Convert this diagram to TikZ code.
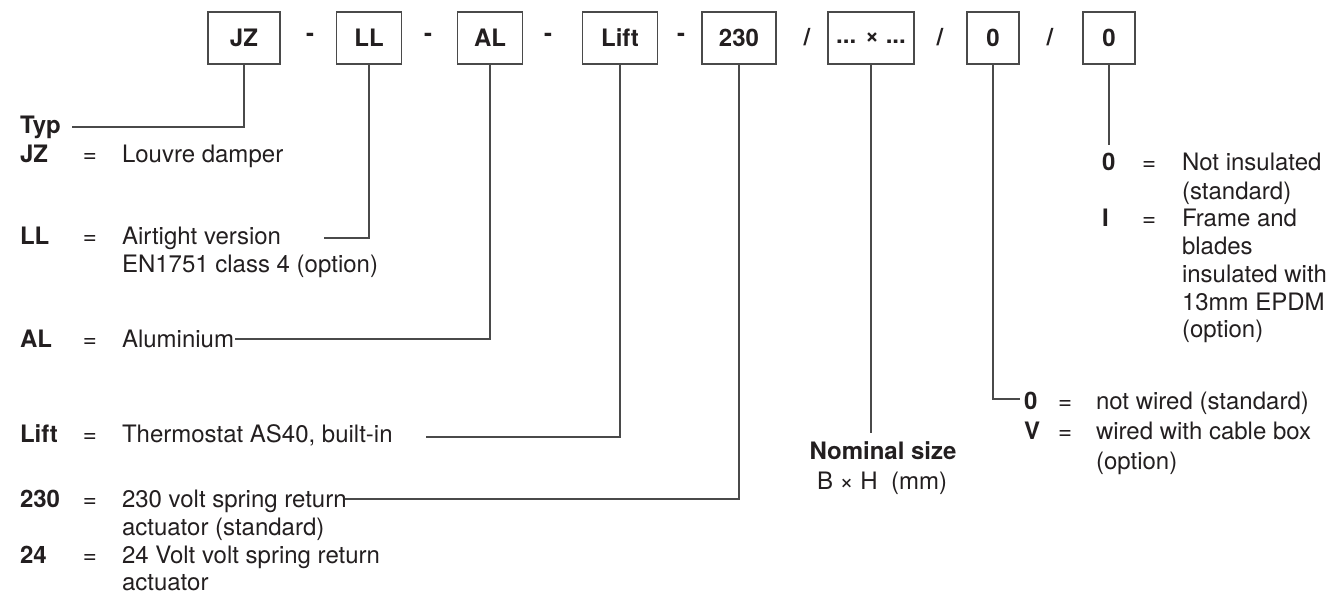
\documentclass[tikz,border=0pt]{standalone}
\usepackage{fontspec}
\setmainfont{TeX Gyre Heros}
\definecolor{textc}{HTML}{231F20}
\definecolor{linec}{HTML}{4A4A4A}
\begin{document}
\begin{tikzpicture}[x=0.5pt,y=-0.5pt,
  every node/.style={inner sep=0pt, outer sep=0pt, text=textc},
  codebox/.style={draw=linec, line width=0.6pt, minimum height=26pt, font=\fontsize{12}{14}\selectfont\bfseries},
  sep/.style={font=\fontsize{12}{14}\selectfont\bfseries},
  code/.style={anchor=base west, font=\fontsize{12}{14}\selectfont\bfseries},
  eq/.style={anchor=base, font=\fontsize{12}{14}\selectfont},
  desc/.style={anchor=base west, font=\fontsize{12}{14}\selectfont},
  conn/.style={draw=linec, line width=0.6pt}]
\useasboundingbox (0,0) rectangle (1339,595);

% top code boxes
\node[codebox, minimum width=36pt]   (jz)   at (244,38) {JZ};
\node[codebox, minimum width=32.5pt] (ll)   at (369,38) {LL};
\node[codebox, minimum width=32.5pt] (al)   at (490,38) {AL};
\node[codebox, minimum width=37.5pt] (lift) at (620,38) {Lift};
\node[codebox, minimum width=37pt]   (b230) at (739,38) {230};
\node[codebox, minimum width=43pt]   (size) at (871,38) {... × ...};
\node[codebox, minimum width=26pt]   (za)   at (993,38) {0};
\node[codebox, minimum width=26pt]   (zb)   at (1109,38) {0};

\node[sep] (s1) at (310,37) {-};
\node[sep] (s2) at (428,37) {-};
\node[sep] (s3) at (548,37) {-};
\node[sep] (s4) at (681,37) {-};
\node[sep] (s5) at (807,37) {/};
\node[sep] (s6) at (940,37) {/};
\node[sep] (s7) at (1050,37) {/};

% left column
\node[code] (typ) at (20,133) {Typ};
\coordinate (typend) at (72,127);

\node[code] (cjz) at (20,162) {JZ};
\node[eq]   (ejz) at (90,162) {=};
\node[desc] (djz) at (122,162) {Louvre damper};

\node[code] (cll) at (20,244) {LL};
\node[eq]   (ell) at (90,244) {=};
\node[desc] (dll1) at (122,244) {Airtight version};
\node[desc] (dll2) at (122,272) {EN1751 class 4 (option)};
\coordinate (llend) at (324,238);

\node[code] (cal) at (20,347) {AL};
\node[eq]   (eal) at (90,347) {=};
\node[desc] (dal) at (122,347) {Aluminium};
\coordinate (alend) at (235,339);

\node[code] (clift) at (20,442) {Lift};
\node[eq]   (elift) at (90,442) {=};
\node[desc] (dlift) at (122,442) {Thermostat AS40, built-in};
\coordinate (liftend) at (426,437);

\node[code] (c230) at (20,507) {230};
\node[eq]   (e230) at (90,507) {=};
\node[desc] (d230a) at (122,507) {230 volt spring return};
\node[desc] (d230b) at (122,535) {actuator (standard)};
\coordinate (b230end) at (345,499);

\node[code] (c24) at (20,563) {24};
\node[eq]   (e24) at (90,563) {=};
\node[desc] (d24a) at (122,563) {24 Volt volt spring return};
\node[desc] (d24b) at (122,590) {actuator};

% nominal size
\node[anchor=base, font=\fontsize{12}{14}\selectfont\bfseries] (nom) at (883,459) {Nominal size};
\node[anchor=base, font=\fontsize{12}{14}\selectfont] (bxh) at (882,489) {B × H\ \ (mm)};
\coordinate (sizeend) at (871,433);

% wiring
\coordinate (zaend) at (1020,399);
\node[code] (cw0) at (1024,409) {0};
\node[eq]   (ew0) at (1065,409) {=};
\node[desc] (dw0) at (1096,409) {not wired (standard)};
\node[code] (cwv) at (1024,439) {V};
\node[eq]   (ewv) at (1065,439) {=};
\node[desc] (dwv1) at (1096,439) {wired with cable box};
\node[desc] (dwv2) at (1096,469) {(option)};

% insulation
\coordinate (zbend) at (1109,145);
\node[code] (ci0) at (1102,170) {0};
\node[eq]   (ei0) at (1149,170) {=};
\node[desc] (di01) at (1182,170) {Not insulated};
\node[desc] (di02) at (1182,199) {(standard)};
\node[code] (ciI) at (1102,226) {I};
\node[eq]   (eiI) at (1149,226) {=};
\node[desc] (diI1) at (1182,226) {Frame and};
\node[desc] (diI2) at (1182,254) {blades};
\node[desc] (diI3) at (1182,282) {insulated with};
\node[desc] (diI4) at (1182,310) {13mm EPDM};
\node[desc] (diI5) at (1182,337) {(option)};

% connectors
\draw[conn] (jz.south) |- (typend);
\draw[conn] (ll.south) |- (llend);
\draw[conn] (al.south) |- (alend);
\draw[conn] (lift.south) |- (liftend);
\draw[conn] (b230.south) |- (b230end);
\draw[conn] (size.south) -- (sizeend);
\draw[conn] (za.south) |- (zaend);
\draw[conn] (zb.south) -- (zbend);
\end{tikzpicture}
\end{document}
